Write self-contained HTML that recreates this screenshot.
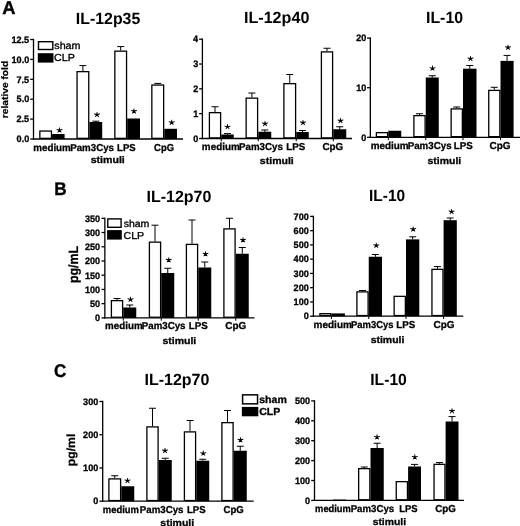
<!DOCTYPE html><html><head><meta charset="utf-8"><style>html,body{margin:0;padding:0;background:#fff;}text{font-family:"Liberation Sans",sans-serif;}svg{display:block;filter:blur(0.35px);}</style></head><body>
<svg width="520" height="526" viewBox="0 0 520 526" text-rendering="geometricPrecision">
<rect width="520" height="526" fill="#fff"/>
<text transform="translate(2.14,14.10) scale(0.9923,1)" font-size="18.5" font-weight="bold" font-family="&quot;Liberation Sans&quot;, sans-serif" stroke="#000" stroke-width="0.35">A</text>
<text transform="translate(54.18,195.40) scale(0.9406,1)" font-size="18.3" font-weight="bold" font-family="&quot;Liberation Sans&quot;, sans-serif" stroke="#000" stroke-width="0.35">B</text>
<text transform="translate(54.12,376.50) scale(0.9344,1)" font-size="18.3" font-weight="bold" font-family="&quot;Liberation Sans&quot;, sans-serif" stroke="#000" stroke-width="0.35">C</text>
<line x1="33.50" y1="38.85" x2="33.50" y2="139.65" stroke="#000" stroke-width="1.3"/>
<line x1="32.85" y1="139.00" x2="183.00" y2="139.00" stroke="#000" stroke-width="1.3"/>
<line x1="30.20" y1="139.00" x2="33.50" y2="139.00" stroke="#000" stroke-width="1.3"/>
<text transform="translate(16.59,142.29) scale(0.9700,1)" font-size="9.4" font-weight="bold" font-family="&quot;Liberation Sans&quot;, sans-serif" stroke="#000" stroke-width="0.3">0.0</text>
<line x1="30.20" y1="119.10" x2="33.50" y2="119.10" stroke="#000" stroke-width="1.3"/>
<text transform="translate(16.45,122.39) scale(0.9700,1)" font-size="9.4" font-weight="bold" font-family="&quot;Liberation Sans&quot;, sans-serif" stroke="#000" stroke-width="0.3">2.5</text>
<line x1="30.20" y1="99.20" x2="33.50" y2="99.20" stroke="#000" stroke-width="1.3"/>
<text transform="translate(16.59,102.49) scale(0.9700,1)" font-size="9.4" font-weight="bold" font-family="&quot;Liberation Sans&quot;, sans-serif" stroke="#000" stroke-width="0.3">5.0</text>
<line x1="30.20" y1="79.30" x2="33.50" y2="79.30" stroke="#000" stroke-width="1.3"/>
<text transform="translate(16.45,82.59) scale(0.9700,1)" font-size="9.4" font-weight="bold" font-family="&quot;Liberation Sans&quot;, sans-serif" stroke="#000" stroke-width="0.3">7.5</text>
<line x1="30.20" y1="59.40" x2="33.50" y2="59.40" stroke="#000" stroke-width="1.3"/>
<text transform="translate(11.53,62.69) scale(0.9700,1)" font-size="9.4" font-weight="bold" font-family="&quot;Liberation Sans&quot;, sans-serif" stroke="#000" stroke-width="0.3">10.0</text>
<line x1="30.20" y1="39.50" x2="33.50" y2="39.50" stroke="#000" stroke-width="1.3"/>
<text transform="translate(11.39,42.79) scale(0.9700,1)" font-size="9.4" font-weight="bold" font-family="&quot;Liberation Sans&quot;, sans-serif" stroke="#000" stroke-width="0.3">12.5</text>
<rect x="39.85" y="131.05" width="11.60" height="7.30" fill="#fff" stroke="#000" stroke-width="1.3"/>
<rect x="52.10" y="134.00" width="12.50" height="5.00" fill="#000"/>
<path d="M60.17,130.27L59.84,127.48L59.16,127.48L58.83,130.27ZM59.71,130.98L62.55,129.76L62.34,129.05L59.29,129.55ZM58.95,130.71L61.05,132.74L61.60,132.30L60.05,129.82ZM58.95,129.82L57.40,132.30L57.95,132.74L60.05,130.71ZM59.71,129.55L56.66,129.05L56.45,129.76L59.29,130.98Z" fill="#000"/>
<rect x="77.05" y="71.65" width="11.70" height="66.70" fill="#fff" stroke="#000" stroke-width="1.3"/>
<rect x="89.40" y="122.00" width="12.80" height="17.00" fill="#000"/>
<line x1="82.90" y1="65.60" x2="82.90" y2="71.00" stroke="#000" stroke-width="1.0"/>
<line x1="79.40" y1="65.60" x2="86.40" y2="65.60" stroke="#000" stroke-width="1.0"/>
<line x1="95.80" y1="121.20" x2="95.80" y2="122.00" stroke="#000" stroke-width="1.0"/>
<line x1="92.30" y1="121.20" x2="99.30" y2="121.20" stroke="#000" stroke-width="1.0"/>
<path d="M97.67,114.77L97.34,111.98L96.66,111.98L96.33,114.77ZM97.21,115.48L100.05,114.26L99.84,113.55L96.79,114.05ZM96.45,115.21L98.55,117.24L99.10,116.80L97.55,114.32ZM96.45,114.32L94.90,116.80L95.45,117.24L97.55,115.21ZM97.21,114.05L94.16,113.55L93.95,114.26L96.79,115.48Z" fill="#000"/>
<rect x="114.85" y="51.15" width="11.70" height="87.20" fill="#fff" stroke="#000" stroke-width="1.3"/>
<rect x="127.20" y="118.50" width="12.80" height="20.50" fill="#000"/>
<line x1="120.70" y1="46.60" x2="120.70" y2="50.50" stroke="#000" stroke-width="1.0"/>
<line x1="117.20" y1="46.60" x2="124.20" y2="46.60" stroke="#000" stroke-width="1.0"/>
<path d="M134.68,111.27L134.34,108.48L133.66,108.48L133.32,111.27ZM134.21,111.98L137.05,110.76L136.84,110.05L133.79,110.55ZM133.45,111.71L135.55,113.74L136.10,113.30L134.55,110.82ZM133.45,110.82L131.90,113.30L132.45,113.74L134.55,111.71ZM134.21,110.55L131.16,110.05L130.95,110.76L133.79,111.98Z" fill="#000"/>
<rect x="151.85" y="85.05" width="11.80" height="53.30" fill="#fff" stroke="#000" stroke-width="1.3"/>
<rect x="164.30" y="128.80" width="12.70" height="10.20" fill="#000"/>
<line x1="157.75" y1="83.40" x2="157.75" y2="84.40" stroke="#000" stroke-width="1.0"/>
<line x1="154.25" y1="83.40" x2="161.25" y2="83.40" stroke="#000" stroke-width="1.0"/>
<path d="M172.38,122.52L172.04,119.73L171.36,119.73L171.02,122.52ZM171.91,123.23L174.75,122.01L174.54,121.30L171.49,121.80ZM171.15,122.96L173.25,124.99L173.80,124.55L172.25,122.07ZM171.15,122.07L169.60,124.55L170.15,124.99L172.25,122.96ZM171.91,121.80L168.86,121.30L168.65,122.01L171.49,123.23Z" fill="#000"/>
<text transform="translate(75.87,23.60) scale(0.9808,1)" font-size="16.2" font-weight="bold" font-family="&quot;Liberation Sans&quot;, sans-serif">IL-12p35</text>
<rect x="38.50" y="41.70" width="14.30" height="7.80" fill="#fff" stroke="#000" stroke-width="1.4"/>
<rect x="37.80" y="53.20" width="15.70" height="9.40" fill="#000"/>
<text transform="translate(54.28,49.20) scale(1.0513,1)" font-size="10.2" font-weight="normal" font-family="&quot;Liberation Sans&quot;, sans-serif" stroke="#000" stroke-width="0.32">sham</text>
<text transform="translate(54.06,61.30) scale(1.0521,1)" font-size="10.2" font-weight="normal" font-family="&quot;Liberation Sans&quot;, sans-serif" stroke="#000" stroke-width="0.32">CLP</text>
<text transform="translate(7.70,118.17) rotate(-90) scale(1.0891,1)" font-size="9.4" font-weight="bold" font-family="&quot;Liberation Sans&quot;, sans-serif" stroke="#000" stroke-width="0.22">relative fold</text>
<text transform="translate(33.26,151.00) scale(0.9784,1)" font-size="10.0" font-weight="bold" font-family="&quot;Liberation Sans&quot;, sans-serif" stroke="#000" stroke-width="0.3">medium</text>
<text transform="translate(70.17,151.00) scale(0.9738,1)" font-size="10.0" font-weight="bold" font-family="&quot;Liberation Sans&quot;, sans-serif" stroke="#000" stroke-width="0.3">Pam3Cys</text>
<text transform="translate(117.08,151.00) scale(0.9539,1)" font-size="10.0" font-weight="bold" font-family="&quot;Liberation Sans&quot;, sans-serif" stroke="#000" stroke-width="0.3">LPS</text>
<text transform="translate(154.12,151.00) scale(0.9403,1)" font-size="10.0" font-weight="bold" font-family="&quot;Liberation Sans&quot;, sans-serif" stroke="#000" stroke-width="0.3">CpG</text>
<text transform="translate(90.63,162.80) scale(1.1051,1)" font-size="9.6" font-weight="bold" font-family="&quot;Liberation Sans&quot;, sans-serif" stroke="#000" stroke-width="0.3">stimuli</text>
<line x1="202.40" y1="38.55" x2="202.40" y2="139.15" stroke="#000" stroke-width="1.3"/>
<line x1="201.75" y1="138.50" x2="352.00" y2="138.50" stroke="#000" stroke-width="1.3"/>
<line x1="199.10" y1="138.50" x2="202.40" y2="138.50" stroke="#000" stroke-width="1.3"/>
<text transform="translate(193.30,141.79) scale(0.9700,1)" font-size="9.4" font-weight="bold" font-family="&quot;Liberation Sans&quot;, sans-serif" stroke="#000" stroke-width="0.3">0</text>
<line x1="199.10" y1="113.67" x2="202.40" y2="113.67" stroke="#000" stroke-width="1.3"/>
<text transform="translate(193.17,116.97) scale(0.9700,1)" font-size="9.4" font-weight="bold" font-family="&quot;Liberation Sans&quot;, sans-serif" stroke="#000" stroke-width="0.3">1</text>
<line x1="199.10" y1="88.85" x2="202.40" y2="88.85" stroke="#000" stroke-width="1.3"/>
<text transform="translate(193.30,92.14) scale(0.9700,1)" font-size="9.4" font-weight="bold" font-family="&quot;Liberation Sans&quot;, sans-serif" stroke="#000" stroke-width="0.3">2</text>
<line x1="199.10" y1="64.03" x2="202.40" y2="64.03" stroke="#000" stroke-width="1.3"/>
<text transform="translate(193.26,67.32) scale(0.9700,1)" font-size="9.4" font-weight="bold" font-family="&quot;Liberation Sans&quot;, sans-serif" stroke="#000" stroke-width="0.3">3</text>
<line x1="199.10" y1="39.20" x2="202.40" y2="39.20" stroke="#000" stroke-width="1.3"/>
<text transform="translate(192.99,42.49) scale(0.9700,1)" font-size="9.4" font-weight="bold" font-family="&quot;Liberation Sans&quot;, sans-serif" stroke="#000" stroke-width="0.3">4</text>
<line x1="221.25" y1="138.50" x2="221.25" y2="141.30" stroke="#000" stroke-width="1.0"/>
<line x1="258.25" y1="138.50" x2="258.25" y2="141.30" stroke="#000" stroke-width="1.0"/>
<line x1="296.25" y1="138.50" x2="296.25" y2="141.30" stroke="#000" stroke-width="1.0"/>
<line x1="333.25" y1="138.50" x2="333.25" y2="141.30" stroke="#000" stroke-width="1.0"/>
<rect x="209.40" y="112.65" width="11.20" height="25.20" fill="#fff" stroke="#000" stroke-width="1.3"/>
<rect x="221.25" y="134.50" width="12.50" height="4.00" fill="#000"/>
<line x1="215.00" y1="106.75" x2="215.00" y2="112.00" stroke="#000" stroke-width="1.0"/>
<line x1="211.50" y1="106.75" x2="218.50" y2="106.75" stroke="#000" stroke-width="1.0"/>
<line x1="227.50" y1="133.60" x2="227.50" y2="134.50" stroke="#000" stroke-width="1.0"/>
<line x1="224.00" y1="133.60" x2="231.00" y2="133.60" stroke="#000" stroke-width="1.0"/>
<path d="M228.18,126.89L227.84,124.10L227.16,124.10L226.82,126.89ZM227.71,127.60L230.55,126.38L230.34,125.67L227.29,126.18ZM226.95,127.33L229.05,129.37L229.60,128.93L228.05,126.45ZM226.95,126.45L225.40,128.93L225.95,129.37L228.05,127.33ZM227.71,126.18L224.66,125.67L224.45,126.38L227.29,127.60Z" fill="#000"/>
<rect x="246.15" y="98.15" width="11.45" height="39.70" fill="#fff" stroke="#000" stroke-width="1.3"/>
<rect x="258.25" y="131.75" width="13.00" height="6.75" fill="#000"/>
<line x1="251.88" y1="93.00" x2="251.88" y2="97.50" stroke="#000" stroke-width="1.0"/>
<line x1="248.38" y1="93.00" x2="255.38" y2="93.00" stroke="#000" stroke-width="1.0"/>
<line x1="264.75" y1="130.00" x2="264.75" y2="131.75" stroke="#000" stroke-width="1.0"/>
<line x1="261.25" y1="130.00" x2="268.25" y2="130.00" stroke="#000" stroke-width="1.0"/>
<path d="M265.68,123.77L265.34,120.98L264.66,120.98L264.32,123.77ZM265.21,124.48L268.05,123.26L267.84,122.55L264.79,123.05ZM264.45,124.21L266.55,126.24L267.10,125.80L265.55,123.32ZM264.45,123.32L262.90,125.80L263.45,126.24L265.55,124.21ZM265.21,123.05L262.16,122.55L261.95,123.26L264.79,124.48Z" fill="#000"/>
<rect x="283.90" y="83.65" width="11.70" height="54.20" fill="#fff" stroke="#000" stroke-width="1.3"/>
<rect x="296.25" y="132.00" width="12.50" height="6.50" fill="#000"/>
<line x1="289.75" y1="74.50" x2="289.75" y2="83.00" stroke="#000" stroke-width="1.0"/>
<line x1="286.25" y1="74.50" x2="293.25" y2="74.50" stroke="#000" stroke-width="1.0"/>
<line x1="302.50" y1="130.50" x2="302.50" y2="132.00" stroke="#000" stroke-width="1.0"/>
<line x1="299.00" y1="130.50" x2="306.00" y2="130.50" stroke="#000" stroke-width="1.0"/>
<path d="M303.68,122.77L303.34,119.98L302.66,119.98L302.32,122.77ZM303.21,123.48L306.05,122.26L305.84,121.55L302.79,122.05ZM302.45,123.21L304.55,125.24L305.10,124.80L303.55,122.32ZM302.45,122.32L300.90,124.80L301.45,125.24L303.55,123.21ZM303.21,122.05L300.16,121.55L299.95,122.26L302.79,123.48Z" fill="#000"/>
<rect x="321.40" y="51.90" width="11.20" height="85.95" fill="#fff" stroke="#000" stroke-width="1.3"/>
<rect x="333.25" y="129.25" width="13.00" height="9.25" fill="#000"/>
<line x1="327.00" y1="48.25" x2="327.00" y2="51.25" stroke="#000" stroke-width="1.0"/>
<line x1="323.50" y1="48.25" x2="330.50" y2="48.25" stroke="#000" stroke-width="1.0"/>
<line x1="339.75" y1="126.75" x2="339.75" y2="129.25" stroke="#000" stroke-width="1.0"/>
<line x1="336.25" y1="126.75" x2="343.25" y2="126.75" stroke="#000" stroke-width="1.0"/>
<path d="M341.18,120.77L340.84,117.98L340.16,117.98L339.82,120.77ZM340.71,121.48L343.55,120.26L343.34,119.55L340.29,120.05ZM339.95,121.21L342.05,123.24L342.60,122.80L341.05,120.32ZM339.95,120.32L338.40,122.80L338.95,123.24L341.05,121.21ZM340.71,120.05L337.66,119.55L337.45,120.26L340.29,121.48Z" fill="#000"/>
<text transform="translate(243.95,23.20) scale(0.9962,1)" font-size="16.2" font-weight="bold" font-family="&quot;Liberation Sans&quot;, sans-serif">IL-12p40</text>
<text transform="translate(201.86,150.00) scale(0.9892,1)" font-size="10.0" font-weight="bold" font-family="&quot;Liberation Sans&quot;, sans-serif" stroke="#000" stroke-width="0.3">medium</text>
<text transform="translate(238.97,150.00) scale(0.9738,1)" font-size="10.0" font-weight="bold" font-family="&quot;Liberation Sans&quot;, sans-serif" stroke="#000" stroke-width="0.3">Pam3Cys</text>
<text transform="translate(286.37,150.00) scale(0.9756,1)" font-size="10.0" font-weight="bold" font-family="&quot;Liberation Sans&quot;, sans-serif" stroke="#000" stroke-width="0.3">LPS</text>
<text transform="translate(322.41,150.00) scale(0.9851,1)" font-size="10.0" font-weight="bold" font-family="&quot;Liberation Sans&quot;, sans-serif" stroke="#000" stroke-width="0.3">CpG</text>
<text transform="translate(259.83,164.20) scale(1.0984,1)" font-size="9.6" font-weight="bold" font-family="&quot;Liberation Sans&quot;, sans-serif" stroke="#000" stroke-width="0.3">stimuli</text>
<line x1="370.35" y1="37.45" x2="370.35" y2="137.95" stroke="#000" stroke-width="1.3"/>
<line x1="369.70" y1="137.30" x2="520.00" y2="137.30" stroke="#000" stroke-width="1.3"/>
<line x1="367.05" y1="137.30" x2="370.35" y2="137.30" stroke="#000" stroke-width="1.3"/>
<text transform="translate(361.30,140.59) scale(0.9700,1)" font-size="9.4" font-weight="bold" font-family="&quot;Liberation Sans&quot;, sans-serif" stroke="#000" stroke-width="0.3">0</text>
<line x1="367.05" y1="87.70" x2="370.35" y2="87.70" stroke="#000" stroke-width="1.3"/>
<text transform="translate(356.24,90.99) scale(0.9700,1)" font-size="9.4" font-weight="bold" font-family="&quot;Liberation Sans&quot;, sans-serif" stroke="#000" stroke-width="0.3">10</text>
<line x1="367.05" y1="38.10" x2="370.35" y2="38.10" stroke="#000" stroke-width="1.3"/>
<text transform="translate(356.24,41.39) scale(0.9700,1)" font-size="9.4" font-weight="bold" font-family="&quot;Liberation Sans&quot;, sans-serif" stroke="#000" stroke-width="0.3">20</text>
<line x1="388.25" y1="137.30" x2="388.25" y2="140.10" stroke="#000" stroke-width="1.0"/>
<line x1="425.75" y1="137.30" x2="425.75" y2="140.10" stroke="#000" stroke-width="1.0"/>
<line x1="463.00" y1="137.30" x2="463.00" y2="140.10" stroke="#000" stroke-width="1.0"/>
<line x1="500.50" y1="137.30" x2="500.50" y2="140.10" stroke="#000" stroke-width="1.0"/>
<rect x="376.40" y="132.65" width="11.20" height="4.00" fill="#fff" stroke="#000" stroke-width="1.3"/>
<rect x="388.25" y="130.75" width="13.00" height="6.55" fill="#000"/>
<rect x="413.90" y="115.65" width="11.20" height="21.00" fill="#fff" stroke="#000" stroke-width="1.3"/>
<rect x="425.75" y="77.50" width="13.00" height="59.80" fill="#000"/>
<line x1="419.50" y1="113.75" x2="419.50" y2="115.00" stroke="#000" stroke-width="1.0"/>
<line x1="416.00" y1="113.75" x2="423.00" y2="113.75" stroke="#000" stroke-width="1.0"/>
<line x1="432.25" y1="75.75" x2="432.25" y2="77.50" stroke="#000" stroke-width="1.0"/>
<line x1="428.75" y1="75.75" x2="435.75" y2="75.75" stroke="#000" stroke-width="1.0"/>
<path d="M433.18,68.39L432.84,65.60L432.16,65.60L431.82,68.39ZM432.71,69.10L435.55,67.88L435.34,67.17L432.29,67.68ZM431.95,68.83L434.05,70.87L434.60,70.43L433.05,67.95ZM431.95,67.95L430.40,70.43L430.95,70.87L433.05,68.83ZM432.71,67.68L429.66,67.17L429.45,67.88L432.29,69.10Z" fill="#000"/>
<rect x="451.15" y="108.90" width="11.20" height="27.75" fill="#fff" stroke="#000" stroke-width="1.3"/>
<rect x="463.00" y="68.70" width="13.50" height="68.60" fill="#000"/>
<line x1="456.75" y1="107.00" x2="456.75" y2="108.25" stroke="#000" stroke-width="1.0"/>
<line x1="453.25" y1="107.00" x2="460.25" y2="107.00" stroke="#000" stroke-width="1.0"/>
<line x1="469.75" y1="65.50" x2="469.75" y2="68.70" stroke="#000" stroke-width="1.0"/>
<line x1="466.25" y1="65.50" x2="473.25" y2="65.50" stroke="#000" stroke-width="1.0"/>
<path d="M471.18,58.67L470.84,55.88L470.16,55.88L469.82,58.67ZM470.71,59.38L473.55,58.16L473.34,57.45L470.29,57.95ZM469.95,59.11L472.05,61.14L472.60,60.70L471.05,58.22ZM469.95,58.22L468.40,60.70L468.95,61.14L471.05,59.11ZM470.71,57.95L467.66,57.45L467.45,58.16L470.29,59.38Z" fill="#000"/>
<rect x="488.75" y="90.40" width="11.10" height="46.25" fill="#fff" stroke="#000" stroke-width="1.3"/>
<rect x="500.50" y="60.90" width="13.10" height="76.40" fill="#000"/>
<line x1="494.30" y1="87.30" x2="494.30" y2="89.75" stroke="#000" stroke-width="1.0"/>
<line x1="490.80" y1="87.30" x2="497.80" y2="87.30" stroke="#000" stroke-width="1.0"/>
<line x1="507.05" y1="55.40" x2="507.05" y2="60.90" stroke="#000" stroke-width="1.0"/>
<line x1="503.55" y1="55.40" x2="510.55" y2="55.40" stroke="#000" stroke-width="1.0"/>
<path d="M508.68,47.54L508.34,44.75L507.66,44.75L507.32,47.54ZM508.21,48.25L511.05,47.03L510.84,46.32L507.79,46.83ZM507.45,47.98L509.55,50.02L510.10,49.58L508.55,47.10ZM507.45,47.10L505.90,49.58L506.45,50.02L508.55,47.98ZM508.21,46.83L505.16,46.32L504.95,47.03L507.79,48.25Z" fill="#000"/>
<text transform="translate(425.97,23.00) scale(0.9827,1)" font-size="16.2" font-weight="bold" font-family="&quot;Liberation Sans&quot;, sans-serif">IL-10</text>
<text transform="translate(370.66,149.00) scale(0.9892,1)" font-size="10.0" font-weight="bold" font-family="&quot;Liberation Sans&quot;, sans-serif" stroke="#000" stroke-width="0.3">medium</text>
<text transform="translate(407.67,149.00) scale(0.9761,1)" font-size="10.0" font-weight="bold" font-family="&quot;Liberation Sans&quot;, sans-serif" stroke="#000" stroke-width="0.3">Pam3Cys</text>
<text transform="translate(453.87,149.00) scale(0.9756,1)" font-size="10.0" font-weight="bold" font-family="&quot;Liberation Sans&quot;, sans-serif" stroke="#000" stroke-width="0.3">LPS</text>
<text transform="translate(489.60,149.00) scale(0.9950,1)" font-size="10.0" font-weight="bold" font-family="&quot;Liberation Sans&quot;, sans-serif" stroke="#000" stroke-width="0.3">CpG</text>
<text transform="translate(427.53,163.80) scale(1.0884,1)" font-size="9.6" font-weight="bold" font-family="&quot;Liberation Sans&quot;, sans-serif" stroke="#000" stroke-width="0.3">stimuli</text>
<line x1="104.85" y1="217.65" x2="104.85" y2="318.55" stroke="#000" stroke-width="1.3"/>
<line x1="104.20" y1="317.90" x2="254.50" y2="317.90" stroke="#000" stroke-width="1.3"/>
<line x1="101.55" y1="317.90" x2="104.85" y2="317.90" stroke="#000" stroke-width="1.3"/>
<text transform="translate(95.10,321.19) scale(0.9700,1)" font-size="9.4" font-weight="bold" font-family="&quot;Liberation Sans&quot;, sans-serif" stroke="#000" stroke-width="0.3">0</text>
<line x1="101.55" y1="303.67" x2="104.85" y2="303.67" stroke="#000" stroke-width="1.3"/>
<text transform="translate(90.04,306.96) scale(0.9700,1)" font-size="9.4" font-weight="bold" font-family="&quot;Liberation Sans&quot;, sans-serif" stroke="#000" stroke-width="0.3">50</text>
<line x1="101.55" y1="289.44" x2="104.85" y2="289.44" stroke="#000" stroke-width="1.3"/>
<text transform="translate(84.98,292.73) scale(0.9700,1)" font-size="9.4" font-weight="bold" font-family="&quot;Liberation Sans&quot;, sans-serif" stroke="#000" stroke-width="0.3">100</text>
<line x1="101.55" y1="275.21" x2="104.85" y2="275.21" stroke="#000" stroke-width="1.3"/>
<text transform="translate(84.98,278.50) scale(0.9700,1)" font-size="9.4" font-weight="bold" font-family="&quot;Liberation Sans&quot;, sans-serif" stroke="#000" stroke-width="0.3">150</text>
<line x1="101.55" y1="260.99" x2="104.85" y2="260.99" stroke="#000" stroke-width="1.3"/>
<text transform="translate(84.98,264.28) scale(0.9700,1)" font-size="9.4" font-weight="bold" font-family="&quot;Liberation Sans&quot;, sans-serif" stroke="#000" stroke-width="0.3">200</text>
<line x1="101.55" y1="246.76" x2="104.85" y2="246.76" stroke="#000" stroke-width="1.3"/>
<text transform="translate(84.98,250.05) scale(0.9700,1)" font-size="9.4" font-weight="bold" font-family="&quot;Liberation Sans&quot;, sans-serif" stroke="#000" stroke-width="0.3">250</text>
<line x1="101.55" y1="232.53" x2="104.85" y2="232.53" stroke="#000" stroke-width="1.3"/>
<text transform="translate(84.98,235.82) scale(0.9700,1)" font-size="9.4" font-weight="bold" font-family="&quot;Liberation Sans&quot;, sans-serif" stroke="#000" stroke-width="0.3">300</text>
<line x1="101.55" y1="218.30" x2="104.85" y2="218.30" stroke="#000" stroke-width="1.3"/>
<text transform="translate(84.98,221.59) scale(0.9700,1)" font-size="9.4" font-weight="bold" font-family="&quot;Liberation Sans&quot;, sans-serif" stroke="#000" stroke-width="0.3">350</text>
<line x1="123.25" y1="317.90" x2="123.25" y2="320.70" stroke="#000" stroke-width="1.0"/>
<line x1="161.25" y1="317.90" x2="161.25" y2="320.70" stroke="#000" stroke-width="1.0"/>
<line x1="198.25" y1="317.90" x2="198.25" y2="320.70" stroke="#000" stroke-width="1.0"/>
<line x1="235.75" y1="317.90" x2="235.75" y2="320.70" stroke="#000" stroke-width="1.0"/>
<rect x="111.40" y="300.65" width="11.20" height="16.60" fill="#fff" stroke="#000" stroke-width="1.3"/>
<rect x="123.25" y="307.50" width="13.00" height="10.40" fill="#000"/>
<line x1="117.00" y1="298.50" x2="117.00" y2="300.00" stroke="#000" stroke-width="1.0"/>
<line x1="113.50" y1="298.50" x2="120.50" y2="298.50" stroke="#000" stroke-width="1.0"/>
<line x1="129.75" y1="305.00" x2="129.75" y2="307.50" stroke="#000" stroke-width="1.0"/>
<line x1="126.25" y1="305.00" x2="133.25" y2="305.00" stroke="#000" stroke-width="1.0"/>
<path d="M131.18,299.52L130.84,296.73L130.16,296.73L129.82,299.52ZM130.71,300.23L133.55,299.01L133.34,298.30L130.29,298.80ZM129.95,299.96L132.05,301.99L132.60,301.55L131.05,299.07ZM129.95,299.07L128.40,301.55L128.95,301.99L131.05,299.96ZM130.71,298.80L127.66,298.30L127.45,299.01L130.29,300.23Z" fill="#000"/>
<rect x="149.40" y="242.15" width="11.20" height="75.10" fill="#fff" stroke="#000" stroke-width="1.3"/>
<rect x="161.25" y="273.00" width="13.00" height="44.90" fill="#000"/>
<line x1="155.00" y1="225.20" x2="155.00" y2="241.50" stroke="#000" stroke-width="1.0"/>
<line x1="151.50" y1="225.20" x2="158.50" y2="225.20" stroke="#000" stroke-width="1.0"/>
<line x1="167.75" y1="268.25" x2="167.75" y2="273.00" stroke="#000" stroke-width="1.0"/>
<line x1="164.25" y1="268.25" x2="171.25" y2="268.25" stroke="#000" stroke-width="1.0"/>
<path d="M169.43,260.02L169.09,257.23L168.41,257.23L168.07,260.02ZM168.96,260.73L171.80,259.51L171.59,258.80L168.54,259.30ZM168.20,260.46L170.30,262.49L170.85,262.05L169.30,259.57ZM168.20,259.57L166.65,262.05L167.20,262.49L169.30,260.46ZM168.96,259.30L165.91,258.80L165.70,259.51L168.54,260.73Z" fill="#000"/>
<rect x="186.40" y="244.40" width="11.20" height="72.85" fill="#fff" stroke="#000" stroke-width="1.3"/>
<rect x="198.25" y="267.50" width="13.00" height="50.40" fill="#000"/>
<line x1="192.00" y1="220.00" x2="192.00" y2="243.75" stroke="#000" stroke-width="1.0"/>
<line x1="188.50" y1="220.00" x2="195.50" y2="220.00" stroke="#000" stroke-width="1.0"/>
<line x1="204.75" y1="262.00" x2="204.75" y2="267.50" stroke="#000" stroke-width="1.0"/>
<line x1="201.25" y1="262.00" x2="208.25" y2="262.00" stroke="#000" stroke-width="1.0"/>
<path d="M206.18,254.02L205.84,251.23L205.16,251.23L204.82,254.02ZM205.71,254.73L208.55,253.51L208.34,252.80L205.29,253.30ZM204.95,254.46L207.05,256.49L207.60,256.05L206.05,253.57ZM204.95,253.57L203.40,256.05L203.95,256.49L206.05,254.46ZM205.71,253.30L202.66,252.80L202.45,253.51L205.29,254.73Z" fill="#000"/>
<rect x="223.90" y="228.90" width="11.20" height="88.35" fill="#fff" stroke="#000" stroke-width="1.3"/>
<rect x="235.75" y="253.75" width="13.00" height="64.15" fill="#000"/>
<line x1="229.50" y1="218.25" x2="229.50" y2="228.25" stroke="#000" stroke-width="1.0"/>
<line x1="226.00" y1="218.25" x2="233.00" y2="218.25" stroke="#000" stroke-width="1.0"/>
<line x1="242.25" y1="247.50" x2="242.25" y2="253.75" stroke="#000" stroke-width="1.0"/>
<line x1="238.75" y1="247.50" x2="245.75" y2="247.50" stroke="#000" stroke-width="1.0"/>
<path d="M243.68,240.02L243.34,237.23L242.66,237.23L242.32,240.02ZM243.21,240.73L246.05,239.51L245.84,238.80L242.79,239.30ZM242.45,240.46L244.55,242.49L245.10,242.05L243.55,239.57ZM242.45,239.57L240.90,242.05L241.45,242.49L243.55,240.46ZM243.21,239.30L240.16,238.80L239.95,239.51L242.79,240.73Z" fill="#000"/>
<text transform="translate(146.46,202.00) scale(0.9884,1)" font-size="16.2" font-weight="bold" font-family="&quot;Liberation Sans&quot;, sans-serif">IL-12p70</text>
<rect x="107.80" y="218.90" width="13.30" height="8.40" fill="#fff" stroke="#000" stroke-width="1.4"/>
<rect x="107.10" y="230.10" width="14.70" height="9.50" fill="#000"/>
<text transform="translate(123.68,226.90) scale(1.0407,1)" font-size="10.1" font-weight="normal" font-family="&quot;Liberation Sans&quot;, sans-serif" stroke="#000" stroke-width="0.32">sham</text>
<text transform="translate(123.47,238.50) scale(1.0572,1)" font-size="10.1" font-weight="normal" font-family="&quot;Liberation Sans&quot;, sans-serif" stroke="#000" stroke-width="0.32">CLP</text>
<text transform="translate(78.40,283.11) rotate(-90) scale(0.9274,1)" font-size="13.4" font-weight="bold" font-family="&quot;Liberation Sans&quot;, sans-serif" stroke="#000" stroke-width="0.22">pg/mL</text>
<text transform="translate(105.11,329.30) scale(0.9771,1)" font-size="10.0" font-weight="bold" font-family="&quot;Liberation Sans&quot;, sans-serif" stroke="#000" stroke-width="0.3">medium</text>
<text transform="translate(141.77,329.30) scale(0.9693,1)" font-size="10.0" font-weight="bold" font-family="&quot;Liberation Sans&quot;, sans-serif" stroke="#000" stroke-width="0.3">Pam3Cys</text>
<text transform="translate(188.87,329.30) scale(0.9756,1)" font-size="10.0" font-weight="bold" font-family="&quot;Liberation Sans&quot;, sans-serif" stroke="#000" stroke-width="0.3">LPS</text>
<text transform="translate(225.35,329.30) scale(0.9950,1)" font-size="10.0" font-weight="bold" font-family="&quot;Liberation Sans&quot;, sans-serif" stroke="#000" stroke-width="0.3">CpG</text>
<text transform="translate(162.43,344.10) scale(1.0951,1)" font-size="9.6" font-weight="bold" font-family="&quot;Liberation Sans&quot;, sans-serif" stroke="#000" stroke-width="0.3">stimuli</text>
<line x1="313.40" y1="215.75" x2="313.40" y2="316.85" stroke="#000" stroke-width="1.3"/>
<line x1="312.75" y1="316.20" x2="463.25" y2="316.20" stroke="#000" stroke-width="1.3"/>
<line x1="310.10" y1="316.20" x2="313.40" y2="316.20" stroke="#000" stroke-width="1.3"/>
<text transform="translate(303.70,319.49) scale(0.9700,1)" font-size="9.4" font-weight="bold" font-family="&quot;Liberation Sans&quot;, sans-serif" stroke="#000" stroke-width="0.3">0</text>
<line x1="310.10" y1="301.94" x2="313.40" y2="301.94" stroke="#000" stroke-width="1.3"/>
<text transform="translate(293.58,305.23) scale(0.9700,1)" font-size="9.4" font-weight="bold" font-family="&quot;Liberation Sans&quot;, sans-serif" stroke="#000" stroke-width="0.3">100</text>
<line x1="310.10" y1="287.69" x2="313.40" y2="287.69" stroke="#000" stroke-width="1.3"/>
<text transform="translate(293.58,290.98) scale(0.9700,1)" font-size="9.4" font-weight="bold" font-family="&quot;Liberation Sans&quot;, sans-serif" stroke="#000" stroke-width="0.3">200</text>
<line x1="310.10" y1="273.43" x2="313.40" y2="273.43" stroke="#000" stroke-width="1.3"/>
<text transform="translate(293.58,276.72) scale(0.9700,1)" font-size="9.4" font-weight="bold" font-family="&quot;Liberation Sans&quot;, sans-serif" stroke="#000" stroke-width="0.3">300</text>
<line x1="310.10" y1="259.17" x2="313.40" y2="259.17" stroke="#000" stroke-width="1.3"/>
<text transform="translate(293.58,262.46) scale(0.9700,1)" font-size="9.4" font-weight="bold" font-family="&quot;Liberation Sans&quot;, sans-serif" stroke="#000" stroke-width="0.3">400</text>
<line x1="310.10" y1="244.91" x2="313.40" y2="244.91" stroke="#000" stroke-width="1.3"/>
<text transform="translate(293.58,248.20) scale(0.9700,1)" font-size="9.4" font-weight="bold" font-family="&quot;Liberation Sans&quot;, sans-serif" stroke="#000" stroke-width="0.3">500</text>
<line x1="310.10" y1="230.66" x2="313.40" y2="230.66" stroke="#000" stroke-width="1.3"/>
<text transform="translate(293.58,233.95) scale(0.9700,1)" font-size="9.4" font-weight="bold" font-family="&quot;Liberation Sans&quot;, sans-serif" stroke="#000" stroke-width="0.3">600</text>
<line x1="310.10" y1="216.40" x2="313.40" y2="216.40" stroke="#000" stroke-width="1.3"/>
<text transform="translate(293.58,219.69) scale(0.9700,1)" font-size="9.4" font-weight="bold" font-family="&quot;Liberation Sans&quot;, sans-serif" stroke="#000" stroke-width="0.3">700</text>
<line x1="331.40" y1="316.20" x2="331.40" y2="319.00" stroke="#000" stroke-width="1.0"/>
<line x1="368.75" y1="316.20" x2="368.75" y2="319.00" stroke="#000" stroke-width="1.0"/>
<line x1="406.00" y1="316.20" x2="406.00" y2="319.00" stroke="#000" stroke-width="1.0"/>
<line x1="443.60" y1="316.20" x2="443.60" y2="319.00" stroke="#000" stroke-width="1.0"/>
<rect x="319.95" y="313.65" width="10.80" height="1.90" fill="#fff" stroke="#000" stroke-width="1.3"/>
<rect x="331.40" y="313.40" width="13.50" height="2.80" fill="#000"/>
<rect x="356.90" y="291.90" width="11.20" height="23.65" fill="#fff" stroke="#000" stroke-width="1.3"/>
<rect x="368.75" y="256.75" width="13.25" height="59.45" fill="#000"/>
<line x1="362.50" y1="290.50" x2="362.50" y2="291.25" stroke="#000" stroke-width="1.0"/>
<line x1="359.00" y1="290.50" x2="366.00" y2="290.50" stroke="#000" stroke-width="1.0"/>
<line x1="375.38" y1="254.50" x2="375.38" y2="256.75" stroke="#000" stroke-width="1.0"/>
<line x1="371.88" y1="254.50" x2="378.88" y2="254.50" stroke="#000" stroke-width="1.0"/>
<path d="M376.93,245.52L376.59,242.73L375.91,242.73L375.57,245.52ZM376.46,246.23L379.30,245.01L379.09,244.30L376.04,244.80ZM375.70,245.96L377.80,247.99L378.35,247.55L376.80,245.07ZM375.70,245.07L374.15,247.55L374.70,247.99L376.80,245.96ZM376.46,244.80L373.41,244.30L373.20,245.01L376.04,246.23Z" fill="#000"/>
<rect x="394.15" y="296.35" width="11.20" height="19.20" fill="#fff" stroke="#000" stroke-width="1.3"/>
<rect x="406.00" y="239.40" width="13.30" height="76.80" fill="#000"/>
<line x1="412.65" y1="236.80" x2="412.65" y2="239.40" stroke="#000" stroke-width="1.0"/>
<line x1="409.15" y1="236.80" x2="416.15" y2="236.80" stroke="#000" stroke-width="1.0"/>
<path d="M413.88,229.27L413.54,226.48L412.86,226.48L412.52,229.27ZM413.41,229.98L416.25,228.76L416.04,228.05L412.99,228.55ZM412.65,229.71L414.75,231.74L415.30,231.30L413.75,228.82ZM412.65,228.82L411.10,231.30L411.65,231.74L413.75,229.71ZM413.41,228.55L410.36,228.05L410.15,228.76L412.99,229.98Z" fill="#000"/>
<rect x="431.95" y="269.35" width="11.00" height="46.20" fill="#fff" stroke="#000" stroke-width="1.3"/>
<rect x="443.60" y="220.20" width="13.20" height="96.00" fill="#000"/>
<line x1="437.45" y1="266.60" x2="437.45" y2="268.70" stroke="#000" stroke-width="1.0"/>
<line x1="433.95" y1="266.60" x2="440.95" y2="266.60" stroke="#000" stroke-width="1.0"/>
<line x1="450.20" y1="218.00" x2="450.20" y2="220.20" stroke="#000" stroke-width="1.0"/>
<line x1="446.70" y1="218.00" x2="453.70" y2="218.00" stroke="#000" stroke-width="1.0"/>
<path d="M452.28,211.67L451.94,208.88L451.26,208.88L450.93,211.67ZM451.81,212.38L454.65,211.16L454.44,210.45L451.39,210.95ZM451.05,212.11L453.15,214.14L453.70,213.70L452.15,211.22ZM451.05,211.22L449.50,213.70L450.05,214.14L452.15,212.11ZM451.81,210.95L448.76,210.45L448.55,211.16L451.39,212.38Z" fill="#000"/>
<text transform="translate(368.99,200.50) scale(0.9550,1)" font-size="16.2" font-weight="bold" font-family="&quot;Liberation Sans&quot;, sans-serif">IL-10</text>
<text transform="translate(313.60,327.60) scale(0.9973,1)" font-size="10.0" font-weight="bold" font-family="&quot;Liberation Sans&quot;, sans-serif" stroke="#000" stroke-width="0.3">medium</text>
<text transform="translate(350.99,327.60) scale(0.9420,1)" font-size="10.0" font-weight="bold" font-family="&quot;Liberation Sans&quot;, sans-serif" stroke="#000" stroke-width="0.3">Pam3Cys</text>
<text transform="translate(396.17,327.60) scale(0.9756,1)" font-size="10.0" font-weight="bold" font-family="&quot;Liberation Sans&quot;, sans-serif" stroke="#000" stroke-width="0.3">LPS</text>
<text transform="translate(433.60,327.60) scale(0.9950,1)" font-size="10.0" font-weight="bold" font-family="&quot;Liberation Sans&quot;, sans-serif" stroke="#000" stroke-width="0.3">CpG</text>
<text transform="translate(370.63,342.70) scale(1.0917,1)" font-size="9.6" font-weight="bold" font-family="&quot;Liberation Sans&quot;, sans-serif" stroke="#000" stroke-width="0.3">stimuli</text>
<line x1="102.70" y1="400.85" x2="102.70" y2="501.85" stroke="#000" stroke-width="1.3"/>
<line x1="102.05" y1="501.20" x2="253.75" y2="501.20" stroke="#000" stroke-width="1.3"/>
<line x1="99.40" y1="501.20" x2="102.70" y2="501.20" stroke="#000" stroke-width="1.3"/>
<text transform="translate(93.20,504.49) scale(0.9700,1)" font-size="9.4" font-weight="bold" font-family="&quot;Liberation Sans&quot;, sans-serif" stroke="#000" stroke-width="0.3">0</text>
<line x1="99.40" y1="467.97" x2="102.70" y2="467.97" stroke="#000" stroke-width="1.3"/>
<text transform="translate(83.08,471.26) scale(0.9700,1)" font-size="9.4" font-weight="bold" font-family="&quot;Liberation Sans&quot;, sans-serif" stroke="#000" stroke-width="0.3">100</text>
<line x1="99.40" y1="434.73" x2="102.70" y2="434.73" stroke="#000" stroke-width="1.3"/>
<text transform="translate(83.08,438.02) scale(0.9700,1)" font-size="9.4" font-weight="bold" font-family="&quot;Liberation Sans&quot;, sans-serif" stroke="#000" stroke-width="0.3">200</text>
<line x1="99.40" y1="401.50" x2="102.70" y2="401.50" stroke="#000" stroke-width="1.3"/>
<text transform="translate(83.08,404.79) scale(0.9700,1)" font-size="9.4" font-weight="bold" font-family="&quot;Liberation Sans&quot;, sans-serif" stroke="#000" stroke-width="0.3">300</text>
<rect x="108.90" y="478.90" width="11.70" height="21.65" fill="#fff" stroke="#000" stroke-width="1.3"/>
<rect x="121.25" y="486.25" width="13.00" height="14.95" fill="#000"/>
<line x1="114.75" y1="475.75" x2="114.75" y2="478.25" stroke="#000" stroke-width="1.0"/>
<line x1="111.25" y1="475.75" x2="118.25" y2="475.75" stroke="#000" stroke-width="1.0"/>
<path d="M128.18,480.77L127.84,477.98L127.16,477.98L126.83,480.77ZM127.71,481.48L130.55,480.26L130.34,479.55L127.29,480.05ZM126.95,481.21L129.05,483.24L129.60,482.80L128.05,480.32ZM126.95,480.32L125.40,482.80L125.95,483.24L128.05,481.21ZM127.71,480.05L124.66,479.55L124.45,480.26L127.29,481.48Z" fill="#000"/>
<rect x="146.90" y="426.90" width="11.20" height="73.65" fill="#fff" stroke="#000" stroke-width="1.3"/>
<rect x="158.75" y="460.00" width="13.00" height="41.20" fill="#000"/>
<line x1="152.50" y1="408.25" x2="152.50" y2="426.25" stroke="#000" stroke-width="1.0"/>
<line x1="149.00" y1="408.25" x2="156.00" y2="408.25" stroke="#000" stroke-width="1.0"/>
<line x1="165.25" y1="458.25" x2="165.25" y2="460.00" stroke="#000" stroke-width="1.0"/>
<line x1="161.75" y1="458.25" x2="168.75" y2="458.25" stroke="#000" stroke-width="1.0"/>
<path d="M165.68,450.77L165.34,447.98L164.66,447.98L164.32,450.77ZM165.21,451.48L168.05,450.26L167.84,449.55L164.79,450.05ZM164.45,451.21L166.55,453.24L167.10,452.80L165.55,450.32ZM164.45,450.32L162.90,452.80L163.45,453.24L165.55,451.21ZM165.21,450.05L162.16,449.55L161.95,450.26L164.79,451.48Z" fill="#000"/>
<rect x="184.40" y="431.90" width="11.20" height="68.65" fill="#fff" stroke="#000" stroke-width="1.3"/>
<rect x="196.25" y="460.75" width="13.00" height="40.45" fill="#000"/>
<line x1="190.00" y1="420.50" x2="190.00" y2="431.25" stroke="#000" stroke-width="1.0"/>
<line x1="186.50" y1="420.50" x2="193.50" y2="420.50" stroke="#000" stroke-width="1.0"/>
<line x1="202.75" y1="459.25" x2="202.75" y2="460.75" stroke="#000" stroke-width="1.0"/>
<line x1="199.25" y1="459.25" x2="206.25" y2="459.25" stroke="#000" stroke-width="1.0"/>
<path d="M203.93,453.39L203.59,450.60L202.91,450.60L202.57,453.39ZM203.46,454.10L206.30,452.88L206.09,452.17L203.04,452.68ZM202.70,453.83L204.80,455.87L205.35,455.43L203.80,452.95ZM202.70,452.95L201.15,455.43L201.70,455.87L203.80,453.83ZM203.46,452.68L200.41,452.17L200.20,452.88L203.04,454.10Z" fill="#000"/>
<rect x="221.90" y="422.65" width="11.20" height="77.90" fill="#fff" stroke="#000" stroke-width="1.3"/>
<rect x="233.75" y="450.75" width="13.00" height="50.45" fill="#000"/>
<line x1="227.50" y1="410.50" x2="227.50" y2="422.00" stroke="#000" stroke-width="1.0"/>
<line x1="224.00" y1="410.50" x2="231.00" y2="410.50" stroke="#000" stroke-width="1.0"/>
<line x1="240.25" y1="446.25" x2="240.25" y2="450.75" stroke="#000" stroke-width="1.0"/>
<line x1="236.75" y1="446.25" x2="243.75" y2="446.25" stroke="#000" stroke-width="1.0"/>
<path d="M241.18,440.02L240.84,437.23L240.16,437.23L239.82,440.02ZM240.71,440.73L243.55,439.51L243.34,438.80L240.29,439.30ZM239.95,440.46L242.05,442.49L242.60,442.05L241.05,439.57ZM239.95,439.57L238.40,442.05L238.95,442.49L241.05,440.46ZM240.71,439.30L237.66,438.80L237.45,439.51L240.29,440.73Z" fill="#000"/>
<text transform="translate(144.46,385.00) scale(0.9884,1)" font-size="16.2" font-weight="bold" font-family="&quot;Liberation Sans&quot;, sans-serif">IL-12p70</text>
<rect x="242.60" y="394.85" width="14.95" height="9.00" fill="#fff" stroke="#000" stroke-width="1.5"/>
<rect x="241.85" y="406.90" width="16.45" height="9.40" fill="#000"/>
<text transform="translate(259.23,403.20) scale(1.0387,1)" font-size="10.2" font-weight="bold" font-family="&quot;Liberation Sans&quot;, sans-serif" stroke="#000" stroke-width="0.3">sham</text>
<text transform="translate(259.18,414.70) scale(1.0363,1)" font-size="10.2" font-weight="bold" font-family="&quot;Liberation Sans&quot;, sans-serif" stroke="#000" stroke-width="0.3">CLP</text>
<text transform="translate(75.20,466.19) rotate(-90) scale(1.0330,1)" font-size="11.8" font-weight="bold" font-family="&quot;Liberation Sans&quot;, sans-serif" stroke="#000" stroke-width="0.22">pg/ml</text>
<text transform="translate(102.79,512.90) scale(0.9434,1)" font-size="10.0" font-weight="bold" font-family="&quot;Liberation Sans&quot;, sans-serif" stroke="#000" stroke-width="0.3">medium</text>
<text transform="translate(139.77,512.90) scale(0.9693,1)" font-size="10.0" font-weight="bold" font-family="&quot;Liberation Sans&quot;, sans-serif" stroke="#000" stroke-width="0.3">Pam3Cys</text>
<text transform="translate(186.98,512.90) scale(0.9593,1)" font-size="10.0" font-weight="bold" font-family="&quot;Liberation Sans&quot;, sans-serif" stroke="#000" stroke-width="0.3">LPS</text>
<text transform="translate(223.52,512.90) scale(0.9552,1)" font-size="10.0" font-weight="bold" font-family="&quot;Liberation Sans&quot;, sans-serif" stroke="#000" stroke-width="0.3">CpG</text>
<text transform="translate(160.33,525.60) scale(1.0951,1)" font-size="9.6" font-weight="bold" font-family="&quot;Liberation Sans&quot;, sans-serif" stroke="#000" stroke-width="0.3">stimuli</text>
<line x1="314.50" y1="400.25" x2="314.50" y2="501.05" stroke="#000" stroke-width="1.3"/>
<line x1="313.85" y1="500.40" x2="464.00" y2="500.40" stroke="#000" stroke-width="1.3"/>
<line x1="311.20" y1="500.40" x2="314.50" y2="500.40" stroke="#000" stroke-width="1.3"/>
<text transform="translate(305.10,503.69) scale(0.9700,1)" font-size="9.4" font-weight="bold" font-family="&quot;Liberation Sans&quot;, sans-serif" stroke="#000" stroke-width="0.3">0</text>
<line x1="311.20" y1="480.50" x2="314.50" y2="480.50" stroke="#000" stroke-width="1.3"/>
<text transform="translate(294.98,483.79) scale(0.9700,1)" font-size="9.4" font-weight="bold" font-family="&quot;Liberation Sans&quot;, sans-serif" stroke="#000" stroke-width="0.3">100</text>
<line x1="311.20" y1="460.60" x2="314.50" y2="460.60" stroke="#000" stroke-width="1.3"/>
<text transform="translate(294.98,463.89) scale(0.9700,1)" font-size="9.4" font-weight="bold" font-family="&quot;Liberation Sans&quot;, sans-serif" stroke="#000" stroke-width="0.3">200</text>
<line x1="311.20" y1="440.70" x2="314.50" y2="440.70" stroke="#000" stroke-width="1.3"/>
<text transform="translate(294.98,443.99) scale(0.9700,1)" font-size="9.4" font-weight="bold" font-family="&quot;Liberation Sans&quot;, sans-serif" stroke="#000" stroke-width="0.3">300</text>
<line x1="311.20" y1="420.80" x2="314.50" y2="420.80" stroke="#000" stroke-width="1.3"/>
<text transform="translate(294.98,424.09) scale(0.9700,1)" font-size="9.4" font-weight="bold" font-family="&quot;Liberation Sans&quot;, sans-serif" stroke="#000" stroke-width="0.3">400</text>
<line x1="311.20" y1="400.90" x2="314.50" y2="400.90" stroke="#000" stroke-width="1.3"/>
<text transform="translate(294.98,404.19) scale(0.9700,1)" font-size="9.4" font-weight="bold" font-family="&quot;Liberation Sans&quot;, sans-serif" stroke="#000" stroke-width="0.3">500</text>
<rect x="321.15" y="500.25" width="11.20" height="-0.50" fill="#fff" stroke="#000" stroke-width="1.3"/>
<rect x="333.00" y="499.60" width="13.00" height="0.80" fill="#000"/>
<rect x="358.65" y="468.65" width="11.20" height="31.10" fill="#fff" stroke="#000" stroke-width="1.3"/>
<rect x="370.50" y="448.00" width="13.25" height="52.40" fill="#000"/>
<line x1="364.25" y1="467.00" x2="364.25" y2="468.00" stroke="#000" stroke-width="1.0"/>
<line x1="360.75" y1="467.00" x2="367.75" y2="467.00" stroke="#000" stroke-width="1.0"/>
<line x1="377.12" y1="443.25" x2="377.12" y2="448.00" stroke="#000" stroke-width="1.0"/>
<line x1="373.62" y1="443.25" x2="380.62" y2="443.25" stroke="#000" stroke-width="1.0"/>
<path d="M377.68,437.14L377.34,434.35L376.66,434.35L376.32,437.14ZM377.21,437.85L380.05,436.63L379.84,435.92L376.79,436.43ZM376.45,437.58L378.55,439.62L379.10,439.18L377.55,436.70ZM376.45,436.70L374.90,439.18L375.45,439.62L377.55,437.58ZM377.21,436.43L374.16,435.92L373.95,436.63L376.79,437.85Z" fill="#000"/>
<rect x="396.25" y="481.65" width="11.20" height="18.10" fill="#fff" stroke="#000" stroke-width="1.3"/>
<rect x="408.10" y="466.50" width="12.90" height="33.90" fill="#000"/>
<line x1="414.55" y1="464.40" x2="414.55" y2="466.50" stroke="#000" stroke-width="1.0"/>
<line x1="411.05" y1="464.40" x2="418.05" y2="464.40" stroke="#000" stroke-width="1.0"/>
<path d="M415.48,457.14L415.14,454.35L414.46,454.35L414.12,457.14ZM415.01,457.85L417.85,456.63L417.64,455.92L414.59,456.43ZM414.25,457.58L416.35,459.62L416.90,459.18L415.35,456.70ZM414.25,456.70L412.70,459.18L413.25,459.62L415.35,457.58ZM415.01,456.43L411.96,455.92L411.75,456.63L414.59,457.85Z" fill="#000"/>
<rect x="434.05" y="464.35" width="10.90" height="35.40" fill="#fff" stroke="#000" stroke-width="1.3"/>
<rect x="445.60" y="421.50" width="12.90" height="78.90" fill="#000"/>
<line x1="439.50" y1="462.60" x2="439.50" y2="463.70" stroke="#000" stroke-width="1.0"/>
<line x1="436.00" y1="462.60" x2="443.00" y2="462.60" stroke="#000" stroke-width="1.0"/>
<line x1="452.05" y1="416.60" x2="452.05" y2="421.50" stroke="#000" stroke-width="1.0"/>
<line x1="448.55" y1="416.60" x2="455.55" y2="416.60" stroke="#000" stroke-width="1.0"/>
<path d="M452.68,410.92L452.34,408.13L451.66,408.13L451.32,410.92ZM452.21,411.63L455.05,410.41L454.84,409.70L451.79,410.20ZM451.45,411.36L453.55,413.39L454.10,412.95L452.55,410.47ZM451.45,410.47L449.90,412.95L450.45,413.39L452.55,411.36ZM452.21,410.20L449.16,409.70L448.95,410.41L451.79,411.63Z" fill="#000"/>
<text transform="translate(370.23,385.00) scale(0.9688,1)" font-size="16.2" font-weight="bold" font-family="&quot;Liberation Sans&quot;, sans-serif">IL-10</text>
<text transform="translate(315.09,512.20) scale(0.9326,1)" font-size="10.0" font-weight="bold" font-family="&quot;Liberation Sans&quot;, sans-serif" stroke="#000" stroke-width="0.3">medium</text>
<text transform="translate(350.67,512.20) scale(0.9670,1)" font-size="10.0" font-weight="bold" font-family="&quot;Liberation Sans&quot;, sans-serif" stroke="#000" stroke-width="0.3">Pam3Cys</text>
<text transform="translate(399.19,512.20) scale(0.9431,1)" font-size="10.0" font-weight="bold" font-family="&quot;Liberation Sans&quot;, sans-serif" stroke="#000" stroke-width="0.3">LPS</text>
<text transform="translate(435.31,512.20) scale(0.9751,1)" font-size="10.0" font-weight="bold" font-family="&quot;Liberation Sans&quot;, sans-serif" stroke="#000" stroke-width="0.3">CpG</text>
<text transform="translate(372.64,524.50) scale(1.0817,1)" font-size="9.6" font-weight="bold" font-family="&quot;Liberation Sans&quot;, sans-serif" stroke="#000" stroke-width="0.3">stimuli</text>
</svg></body></html>
